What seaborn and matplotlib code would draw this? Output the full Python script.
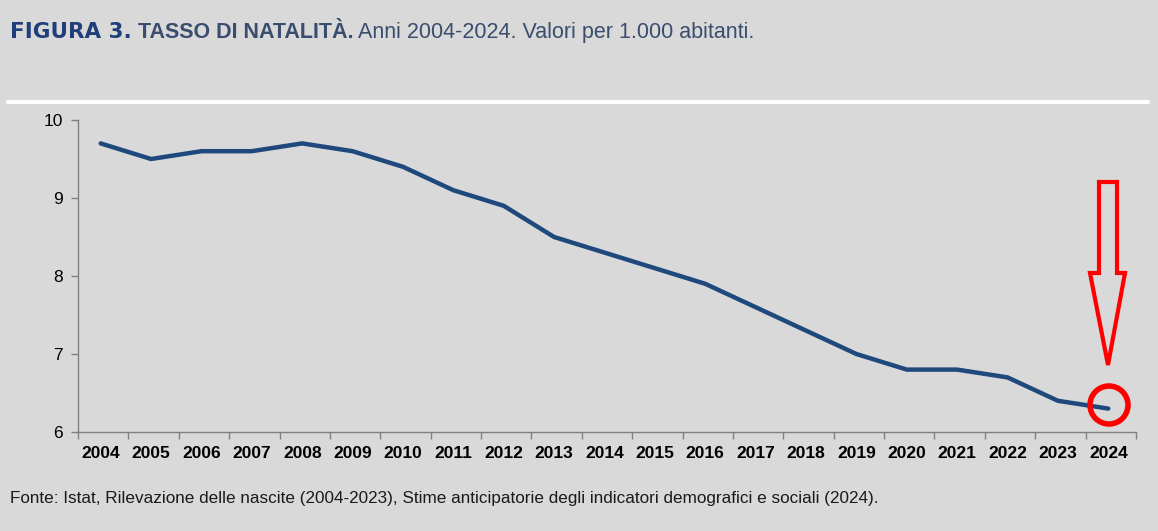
import matplotlib
matplotlib.use("Agg")
import matplotlib.pyplot as plt
import seaborn as sns
import numpy as np
import pandas as pd
from matplotlib.patches import Polygon, Ellipse
from matplotlib.lines import Line2D

years = [str(y) for y in range(2004, 2025)]
rate = [9.7, 9.5, 9.6, 9.6, 9.7, 9.6, 9.4, 9.1, 8.9, 8.5, 8.3, 8.1, 7.9, 7.6, 7.3, 7.0, 6.8, 6.8, 6.7, 6.4, 6.3]
yticks = [6, 7, 8, 9, 10]

sns.set_style("white")
plt.rcParams['font.family'] = ['Liberation Sans', 'DejaVu Sans']
bg = "#d9d9d9"
W, H = 1158, 531
fig = plt.figure(figsize=(W/100, H/100), dpi=100, facecolor=bg)
ax = fig.add_axes([78/W, 1-432/H, (1136-78)/W, (432-120)/H], facecolor=bg)

df = pd.DataFrame({"x": np.arange(len(years)), "v": rate})
sns.lineplot(data=df, x="x", y="v", ax=ax, color="#1f497d", linewidth=3.2)
ax.set_xlim(-0.45, len(years)-0.45)
ax.set_ylim(6, 10)
ax.set_xlabel(""); ax.set_ylabel("")
ax.set_xticks(np.arange(len(years)))
ax.set_xticklabels(years, fontweight="bold", fontsize=12.5, color="black")
ax.set_xticks(np.arange(len(years)+1)-0.45, minor=True)
ax.tick_params(axis="x", which="major", length=0, pad=10, bottom=True)
ax.tick_params(axis="x", which="minor", length=5, color="#808080", direction="out", bottom=True, width=1)
ax.set_yticks(yticks)
ax.set_yticklabels([str(t) for t in yticks], fontsize=12.5, color="black")
ax.tick_params(axis="y", length=5, color="#808080", direction="out", pad=6, left=True, width=1)
for s in ["top", "right"]:
    ax.spines[s].set_visible(False)
for s in ["left", "bottom"]:
    ax.spines[s].set_color("#808080"); ax.spines[s].set_linewidth(1)

fig.add_artist(Line2D([8/W, 1148/W], [1-102/H, 1-102/H], color="white", linewidth=3))

fig.canvas.draw()
r = fig.canvas.get_renderer()
x = 10/W; y = 1-38/H
t1 = fig.text(x, y, "FIGURA 3.", family="DejaVu Sans", fontweight="heavy", fontsize=15.5, color="#1f3e7a")
x = t1.get_window_extent(r).x1/W + 6/W
t2 = fig.text(x, y, "TASSO DI NATALITÀ.", fontweight="bold", fontsize=15.5, color="#3a4d6e")
x = t2.get_window_extent(r).x1/W + 5/W
fig.text(x, y, "Anni 2004-2024. Valori per 1.000 abitanti.", fontsize=15.5, color="#3a4d6e")

fig.text(10/W, 1-503/H, "Fonte: Istat, Rilevazione delle nascite (2004-2023), Stime anticipatorie degli indicatori demografici e sociali (2024).",
         fontsize=12.3, color="#1a1a1a")

pts = [(1099,182),(1117,182),(1117,273),(1125,273),(1108,365),(1090,273),(1099,273)]
fig.add_artist(Polygon([(px/W, 1-py/H) for px, py in pts], closed=True, fill=False,
                       edgecolor="red", linewidth=3, transform=fig.transFigure))
fig.add_artist(Ellipse((1109/W, 1-405/H), 38/W, 38/H, fill=False, edgecolor="red",
                       linewidth=4, transform=fig.transFigure))

fig.savefig("out.png", dpi=100, facecolor=bg)
